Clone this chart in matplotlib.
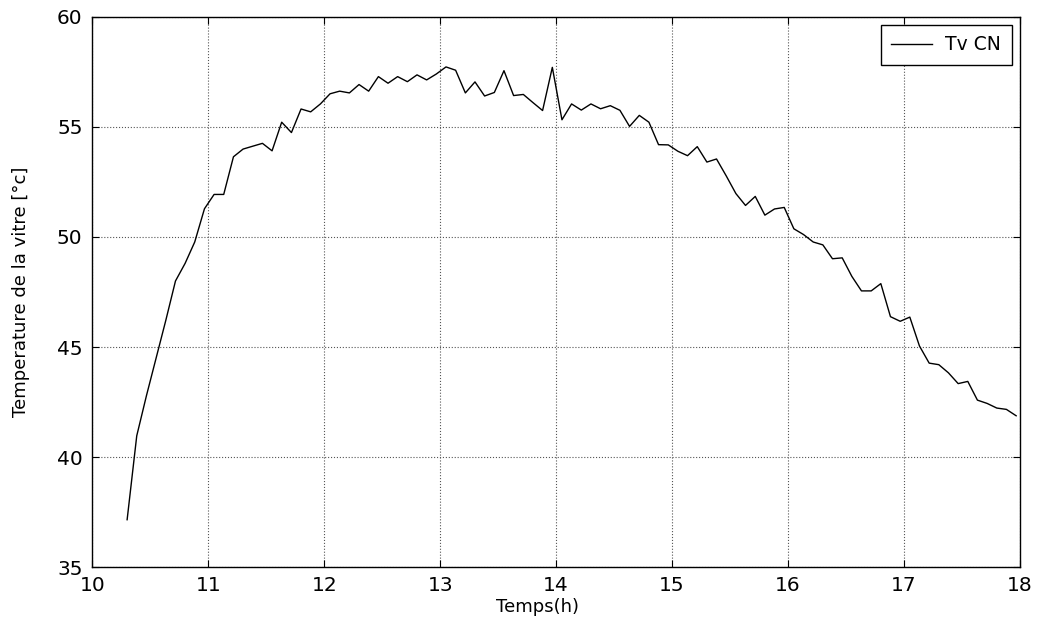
import matplotlib
matplotlib.use("Agg")
import matplotlib.pyplot as plt

plt.rcParams['font.family'] = ['DejaVu Sans']

time_h = [10.300, 10.383, 10.467, 10.550, 10.633, 10.717, 10.800, 10.883, 10.967, 11.050,
          11.133, 11.217, 11.300, 11.383, 11.467, 11.550, 11.633, 11.717, 11.800, 11.883,
          11.967, 12.050, 12.133, 12.217, 12.300, 12.383, 12.467, 12.550, 12.633, 12.717,
          12.800, 12.883, 12.967, 13.050, 13.133, 13.217, 13.300, 13.383, 13.467, 13.550,
          13.633, 13.717, 13.800, 13.883, 13.967, 14.050, 14.133, 14.217, 14.300, 14.383,
          14.467, 14.550, 14.633, 14.717, 14.800, 14.883, 14.967, 15.050, 15.133, 15.217,
          15.300, 15.383, 15.467, 15.550, 15.633, 15.717, 15.800, 15.883, 15.967, 16.050,
          16.133, 16.217, 16.300, 16.383, 16.467, 16.550, 16.633, 16.717, 16.800, 16.883,
          16.967, 17.050, 17.133, 17.217, 17.300, 17.383, 17.467, 17.550, 17.633, 17.717,
          17.800, 17.883, 17.967]

tv_cn = [37.16, 40.97, 42.8, 44.5, 46.2, 48.0, 48.8, 49.77, 51.28, 51.93,
         51.93, 53.64, 53.99, 54.12, 54.25, 53.91, 55.21, 54.74, 55.81, 55.68,
         56.04, 56.5, 56.62, 56.54, 56.92, 56.62, 57.28, 56.98, 57.28, 57.05,
         57.36, 57.13, 57.40, 57.72, 57.57, 56.54, 57.04, 56.40, 56.56, 57.55,
         56.42, 56.47, 56.1, 55.74, 57.70, 55.32, 56.04, 55.76, 56.04, 55.82,
         55.96, 55.75, 55.02, 55.52, 55.21, 54.19, 54.18, 53.89, 53.69, 54.10,
         53.40, 53.54, 52.77, 51.97, 51.43, 51.84, 50.99, 51.27, 51.34, 50.37,
         50.11, 49.77, 49.64, 49.01, 49.05, 48.21, 47.55, 47.55, 47.88, 46.38,
         46.17, 46.36, 45.05, 44.27, 44.20, 43.83, 43.34, 43.44, 42.59, 42.44,
         42.23, 42.17, 41.88]

x_ticks = [10, 11, 12, 13, 14, 15, 16, 17, 18]
y_ticks = [35, 40, 45, 50, 55, 60]

fig = plt.figure(figsize=(10.41, 6.26), dpi=100)
ax = fig.add_axes([0.0887, 0.0938, 0.8911, 0.8795])
ax.plot(time_h, tv_cn, color='black', linewidth=1.0, label='Tv CN')
ax.set_xlim(10, 18)
ax.set_ylim(35, 60)
ax.set_xticks(x_ticks)
ax.set_yticks(y_ticks)
ax.tick_params(direction='in', top=True, right=True, labelsize=14.5, length=5)
ax.tick_params(axis='y', pad=7)
ax.tick_params(axis='x', pad=6)
ax.grid(True, linestyle=':', color='#555555', linewidth=0.8)
for s in ax.spines.values():
    s.set_linewidth(1.0)
ax.set_xlabel('Temps(h)', fontsize=13)
ax.xaxis.set_label_coords(0.4804, -0.0565)
ax.set_ylabel('Temperature de la vitre [°c]', fontsize=13, va='center')
ax.yaxis.set_label_coords(-0.0768, 0.5)
leg = ax.legend(loc='upper right', fontsize=13.5, fancybox=False, edgecolor='black',
                framealpha=1, handlelength=2.2, handletextpad=0.7,
                borderpad=0.55, borderaxespad=0.45)
leg.get_frame().set_linewidth(1.0)
fig.savefig('out.png', dpi=100)
